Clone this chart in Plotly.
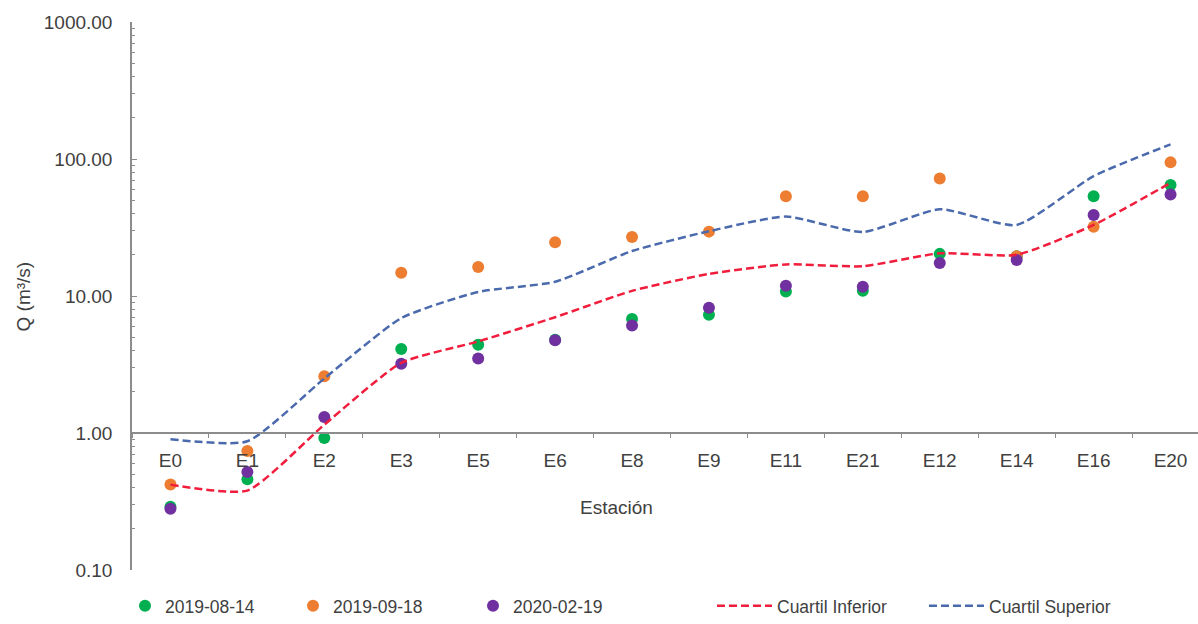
import plotly.graph_objects as go

estaciones = ["E0", "E1", "E2", "E3", "E5", "E6", "E8", "E9", "E11", "E21", "E12", "E14", "E16", "E20"]
q_20190814 = [0.29, 0.46, 0.92, 4.1, 4.4, 4.8, 6.8, 7.3, 10.8, 10.9, 20.3, 19.5, 53.5, 64.5]
q_20190918 = [0.42, 0.74, 2.6, 14.8, 16.3, 24.7, 27.0, 29.5, 53.5, 53.5, 72.0, 19.5, 32.0, 94.5]
q_20200219 = [0.28, 0.52, 1.31, 3.2, 3.5, 4.75, 6.1, 8.2, 11.9, 11.7, 17.4, 18.3, 39.0, 55.0]
cuartil_inf = [0.42, 0.38, 1.15, 3.25, 4.66, 7.0, 10.9, 14.5, 17.0, 16.5, 20.5, 20.0, 33.0, 67.0]
cuartil_sup = [0.9, 0.87, 2.5, 6.9, 10.7, 12.7, 21.3, 29.7, 38.0, 29.3, 43.0, 33.0, 75.0, 128.0]

ytick_vals = [0.1, 1, 10, 100, 1000]
ytick_text = ["0.10", "1.00", "10.00", "100.00", "1000.00"]
minor_vals = [m * 10 ** e for e in (-1, 0, 1, 2) for m in range(2, 10)]

FONT = "Liberation Sans, Arial, sans-serif"
TXT = "#404040"

fig = go.Figure()
fig.add_trace(go.Scatter(x=estaciones, y=q_20190814, mode="markers", name="2019-08-14",
                         marker=dict(color="#00B050", size=12), legend="legend"))
fig.add_trace(go.Scatter(x=estaciones, y=q_20190918, mode="markers", name="2019-09-18",
                         marker=dict(color="#ED7D31", size=12), legend="legend2"))
fig.add_trace(go.Scatter(x=estaciones, y=q_20200219, mode="markers", name="2020-02-19",
                         marker=dict(color="#7030A0", size=12), legend="legend3"))
fig.add_trace(go.Scatter(x=estaciones, y=cuartil_inf, mode="lines", name="Cuartil Inferior",
                         line=dict(color="#F01E3C", width=2.5, dash="8px,4px", shape="spline", smoothing=0.55),
                         legend="legend4"))
fig.add_trace(go.Scatter(x=estaciones, y=cuartil_sup, mode="lines", name="Cuartil Superior",
                         line=dict(color="#4a6aad", width=2.5, dash="8px,4px", shape="spline", smoothing=0.55),
                         legend="legend5"))

L, R, T, B = 132, 0, 22, 51
W, H = 1198, 624
pw = W - L - R
ph = H - T - B

def px2x(p):
    return (p - L) / pw

def py2y(p):
    return (H - B - p) / ph

leg_y = py2y(609)
common = dict(orientation="h", yanchor="middle", xanchor="left", y=leg_y,
              bgcolor="rgba(0,0,0,0)", font=dict(family=FONT, size=17.5, color=TXT))

layout_legends = {
    "legend": dict(x=px2x(125), **common),
    "legend2": dict(x=px2x(293), **common),
    "legend3": dict(x=px2x(473), **common),
    "legend4": dict(x=px2x(712), itemwidth=55, **common),
    "legend5": dict(x=px2x(924), itemwidth=55, **common),
}

fig.update_layout(
    width=W, height=H,
    margin=dict(l=L, r=R, t=T, b=B),
    paper_bgcolor="white", plot_bgcolor="white",
    font=dict(family=FONT, size=19, color=TXT),
    showlegend=True,
    xaxis=dict(type="category", range=[-0.5, 13.357], anchor="free", position=0.25,
               showline=True, linecolor="#8c8c8c", linewidth=1.5,
               ticks="outside", ticklen=4, tickcolor="#8c8c8c", tickson="boundaries",
               ticklabelstandoff=10, showgrid=False, zeroline=False,
               tickfont=dict(family=FONT, size=19, color=TXT)),
    yaxis=dict(type="log", range=[-1, 3], tickvals=ytick_vals, ticktext=ytick_text,
               showline=True, linecolor="#8c8c8c", linewidth=1.5,
               ticks="inside", ticklen=5, tickcolor="#8c8c8c",
               minor=dict(tickvals=minor_vals, ticks="inside", ticklen=3,
                          tickcolor="#8c8c8c", showgrid=False),
               ticklabelstandoff=14, showgrid=False, zeroline=False,
               tickfont=dict(family=FONT, size=19, color=TXT)),
    annotations=[
        dict(text="Estación", x=px2x(616), y=py2y(510), xref="paper", yref="paper",
             showarrow=False, xanchor="center", yanchor="middle",
             font=dict(family=FONT, size=19, color=TXT)),
        dict(text="Q (m³/s)", x=px2x(23), y=py2y(298), xref="paper", yref="paper",
             showarrow=False, xanchor="center", yanchor="middle", textangle=-90,
             font=dict(family=FONT, size=19, color=TXT)),
    ],
    **layout_legends,
)

fig.write_html("out.html")
